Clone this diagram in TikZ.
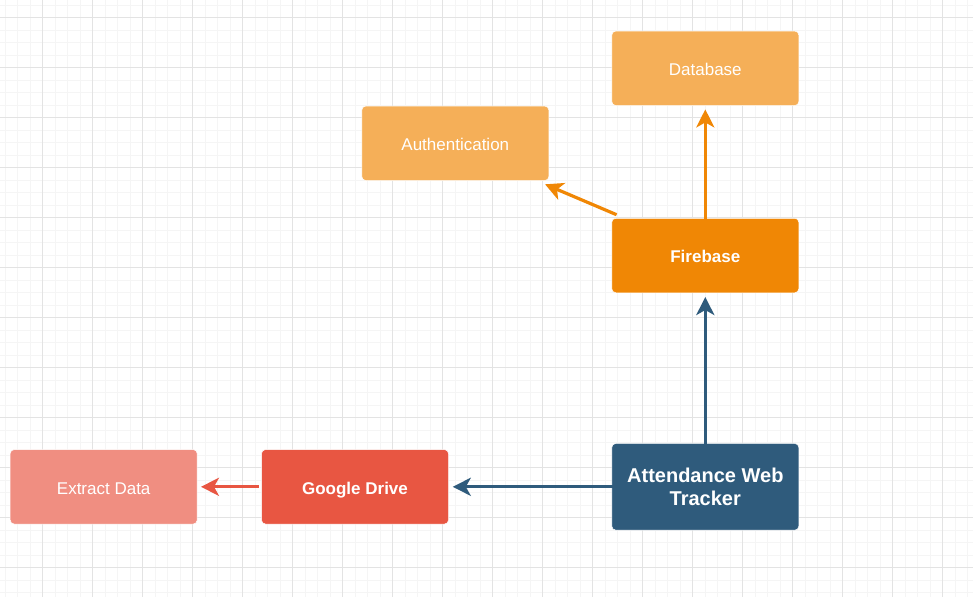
\documentclass[tikz,border=0pt]{standalone}
\usepackage{fontspec}
\setmainfont{Liberation Sans}
\usetikzlibrary{arrows.meta}
\definecolor{lightorange}{HTML}{F5AF58}
\definecolor{fborange}{HTML}{F08705}
\definecolor{navy}{HTML}{2F5B7C}
\definecolor{gred}{HTML}{E85642}
\definecolor{salmon}{HTML}{F08E81}
\definecolor{gridminor}{HTML}{F5F5F5}
\definecolor{gridmajor}{HTML}{E3E3E3}
\newcommand{\lowtext}[2]{\raisebox{-#1pt}[0pt][0pt]{#2}}
\begin{document}
\begin{tikzpicture}[x=1pt,y=-1pt,
  box/.style={rectangle, rounded corners=4pt, minimum width=187pt, minimum height=74.5pt,
    text=white, inner sep=0pt, align=center, draw=white, line width=0.5pt,
    font=\fontsize{17}{20}\selectfont},
  boldbox/.style={box, font=\fontsize{17}{20}\selectfont\bfseries},
  conn/.style={line width=3.2pt, -{Stealth[length=18pt, width=18pt, inset=5pt]}},
  gridmin/.style={draw=gridminor, line width=0.6pt},
  gridmaj/.style={draw=gridmajor, line width=0.8pt}]
\useasboundingbox (0,0) rectangle (973,597);
\fill[white] (0,0) rectangle (973,597);
% grid
\foreach \i in {0,...,77} { \draw[gridmin] (5+12.5*\i,0) -- (5+12.5*\i,597); }
\foreach \i in {0,...,47} { \draw[gridmin] (0,5+12.5*\i) -- (973,5+12.5*\i); }
\foreach \i in {0,...,19} { \draw[gridmaj] (42.5+50*\i,0) -- (42.5+50*\i,597); }
\foreach \i in {0,...,11} { \draw[gridmaj] (0,17.5+50*\i) -- (973,17.5+50*\i); }
% nodes
\node[box, fill=lightorange] (db) at (705.3,68.3) {\lowtext{7.5}{Database}};
\node[box, fill=lightorange] (auth) at (455.3,143.3) {\lowtext{7.5}{Authentication}};
\node[boldbox, fill=fborange] (fb) at (705.3,255.5) {\lowtext{7.2}{Firebase}};
\node[box, fill=navy, minimum height=86.7pt, font=\fontsize{20}{23}\selectfont\bfseries] (awt) at (705.3,486.8) {Attendance Web\\Tracker};
\node[boldbox, fill=gred] (gd) at (355,486.8) {\lowtext{7.2}{Google Drive}};
\node[box, fill=salmon] (ex) at (103.7,486.8) {\lowtext{7.8}{Extract Data}};
% connectors
\draw[conn, navy, shorten <=-2pt, shorten >=4pt] (awt.north) -- (fb.south);
\draw[conn, fborange, shorten <=-2.5pt, shorten >=3.6pt] (fb.north) -- (db.south);
\draw[conn, fborange] ([shift={(5,-3.3)}]fb.north west) -- ([shift={(-4,3.5)}]auth.south east);
\draw[conn, navy, shorten <=-3pt, shorten >=4pt] (awt.west) -- (gd.east);
\draw[conn, gred, shorten <=2.5pt, shorten >=3.5pt] (gd.west) -- (ex.east);
\end{tikzpicture}
\end{document}
